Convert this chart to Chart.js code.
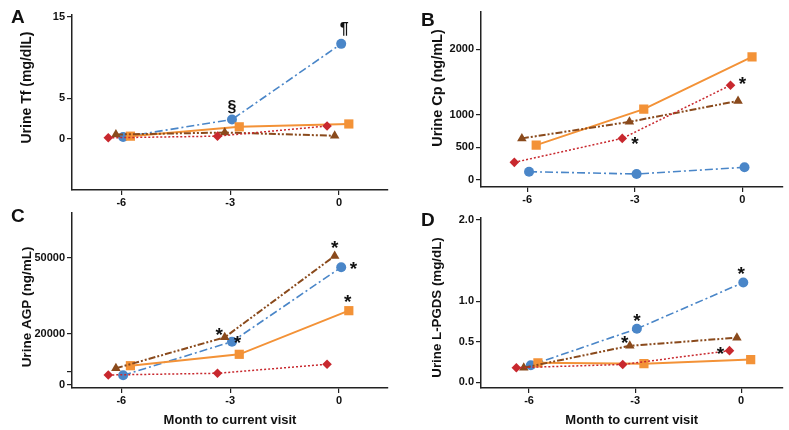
<!DOCTYPE html>
<html>
<head>
<meta charset="utf-8">
<script src="https://cdn.jsdelivr.net/npm/chart.js@4"></script>
<style>
  body { margin: 0; background: #fff; }
  #wrap { position: relative; width: 789px; height: 430px; font-family: "Liberation Sans", Arial, sans-serif; }
  canvas { position: absolute; }
  .tag { position: absolute; font-weight: bold; font-size: 19px; line-height: 19px; color: #111; }
</style>
</head>
<body>
<div id="wrap">
  <canvas id="chartA" width="395" height="215" style="left:0;top:0"></canvas>
  <canvas id="chartB" width="394" height="215" style="left:395px;top:0"></canvas>
  <canvas id="chartC" width="395" height="230" style="left:0;top:200px"></canvas>
  <canvas id="chartD" width="394" height="230" style="left:395px;top:200px"></canvas>
  <div class="tag" style="left:11px;top:7px">A</div>
  <div class="tag" style="left:421px;top:10px">B</div>
  <div class="tag" style="left:11px;top:206px">C</div>
  <div class="tag" style="left:421px;top:210px">D</div>
</div>
<script>
// x positions (months, slightly offset per group so markers don't overlap)
const months = [-6, -3, 0];
const xDiamond = [-6.36, -3.35, -0.33];
const xTriangle = [-6.15, -3.15, -0.12];
const xSquare = [-5.75, -2.75, 0.27];
const xCircle = [-5.95, -2.95, 0.06];

// A - Urine Tf
const tfDiamond = [0.15, 0.35, 1.6];
const tfTriangle = [0.55, 0.8, 0.4];
const tfSquare = [0.35, 1.5, 1.85];
const tfCircle = [0.25, 2.4, 11.7];
const tfTicks = [0, 5, 15];

// B - Urine Cp
const cpDiamond = [270, 637, 1450];
const cpTriangle = [637, 890, 1210];
const cpSquare = [534, 1084, 1885];
const cpCircle = [127, 92, 194];
const cpTicks = [0, 500, 1000, 2000];

// C - Urine AGP
const agpDiamond = [3750, 4420, 7970];
const agpTriangle = [6390, 18600, 50670];
const agpSquare = [7410, 11900, 29100];
const agpCircle = [3630, 16880, 46200];
const agpTicks = [0, 5000, 20000, 50000];
const agpTickLabels = ['0', '', '20000', '50000'];

// D - Urine L-PGDS
const pgdsDiamond = [0.18, 0.22, 0.39];
const pgdsTriangle = [0.18, 0.45, 0.55];
const pgdsSquare = [0.24, 0.23, 0.28];
const pgdsCircle = [0.21, 0.66, 1.23];
const pgdsTicks = [0, 0.5, 1.0, 2.0];
const pgdsTickLabels = ['0.0', '0.5', '1.0', '2.0'];

const seriesX = [xDiamond, xTriangle, xSquare, xCircle];
const seriesStyle = [
    { label: 'diamond', color: '#c8282e', dash: [2, 2], width: 1.5, point: 'rectRot', radius: 4.8 },
    { label: 'triangle', color: '#8a4a1c', dash: [7, 2, 2, 2, 2, 2], width: 2, point: 'triangle', radius: 5.5 },
    { label: 'square', color: '#f39237', dash: [], width: 2, point: 'rect', radius: 6.5 },
    { label: 'circle', color: '#4a86c8', dash: [8, 3, 2, 3], width: 1.6, point: 'circle', radius: 5 }
];
const DIA = 0, TRI = 1, SQ = 2, CIR = 3;

const tickFont = { family: '"Liberation Sans", Arial', size: 11, weight: 'bold' };
const titleFont = { family: '"Liberation Sans", Arial', size: 13, weight: 'bold' };

// significance marks drawn next to a point
const notesPlugin = {
    id: 'notes',
    afterDatasetsDraw(chart, args, opts) {
        const ctx = chart.ctx;
        ctx.save();
        ctx.fillStyle = '#111';
        ctx.textAlign = 'center';
        ctx.textBaseline = 'alphabetic';
        (opts.items || []).forEach(n => {
            const el = chart.getDatasetMeta(n.ds).data[n.i];
            ctx.font = 'bold ' + n.size + 'px "Liberation Sans", Arial';
            const m = ctx.measureText(n.text);
            const cy = el.y + n.dy;
            ctx.fillText(n.text, el.x + n.dx, cy + (m.actualBoundingBoxAscent - m.actualBoundingBoxDescent) / 2);
        });
        ctx.restore();
    }
};

// rotated y axis title
const sideTitlePlugin = {
    id: 'sideTitle',
    afterDraw(chart, args, opts) {
        const ctx = chart.ctx;
        ctx.save();
        ctx.translate(opts.x, opts.y);
        ctx.rotate(-Math.PI / 2);
        ctx.fillStyle = '#111';
        ctx.font = 'bold ' + opts.size + 'px "Liberation Sans", Arial';
        ctx.textAlign = 'center';
        ctx.textBaseline = 'middle';
        ctx.fillText(opts.text, 0, 0);
        ctx.restore();
    }
};

function buildSets(values) {
    return seriesStyle.map((st, k) => ({
        label: st.label,
        data: seriesX[k].map((x, i) => ({ x: x, y: values[k][i] })),
        borderColor: st.color,
        backgroundColor: st.color,
        borderWidth: st.width,
        borderDash: st.dash,
        pointStyle: st.point,
        pointRadius: st.radius,
        pointBorderWidth: 0,
        pointBackgroundColor: st.color,
        tension: 0
    }));
}

function makeChart(id, o) {
    const axisGrid = { drawOnChartArea: false, drawTicks: true, tickLength: 5, color: '#222', lineWidth: 1.2 };
    const axisBorder = { display: true, color: '#222', width: 1.5 };
    return new Chart(document.getElementById(id), {
        type: 'line',
        data: { datasets: buildSets(o.values) },
        options: {
            responsive: false,
            animation: false,
            devicePixelRatio: 1,
            layout: { padding: o.pad },
            plugins: {
                legend: { display: false },
                tooltip: { enabled: false },
                notes: { items: o.notes },
                sideTitle: o.yTitle
            },
            scales: {
                x: {
                    type: 'linear',
                    min: o.xMin,
                    max: o.xMax,
                    afterBuildTicks: s => { s.ticks = months.map(v => ({ value: v })); },
                    afterFit: s => { s.height = o.xHeight; },
                    ticks: { font: tickFont, color: '#111', padding: 1 },
                    grid: axisGrid,
                    border: axisBorder,
                    title: { display: !!o.xTitle, text: o.xTitle || '', font: titleFont, color: '#111', padding: { top: 0, bottom: 2 } }
                },
                y: {
                    type: 'linear',
                    min: o.yMin,
                    max: o.yMax,
                    afterBuildTicks: s => { s.ticks = o.yTicks.map(v => ({ value: v })); },
                    afterFit: s => { s.width = o.yWidth; },
                    ticks: {
                        font: tickFont,
                        color: '#111',
                        padding: 2,
                        callback: v => o.yLabels ? o.yLabels[o.yTicks.indexOf(v)] : String(v)
                    },
                    grid: axisGrid,
                    border: axisBorder
                }
            }
        },
        plugins: [notesPlugin, sideTitlePlugin]
    });
}

document.addEventListener('DOMContentLoaded', function() {
    makeChart('chartA', {
        values: [tfDiamond, tfTriangle, tfSquare, tfCircle],
        xMin: -7.36, xMax: 1.35, yMin: -6.27, yMax: 15.25,
        yTicks: tfTicks,
        pad: { top: 15, right: 7, left: 0, bottom: 0 },
        yWidth: 72, xHeight: 25,
        yTitle: { text: 'Urine Tf (mg/dlL)', x: 27.5, y: 87.5, size: 14 },
        notes: [
            { ds: CIR, i: 1, text: '§', size: 16, dx: 0, dy: -12.5 },
            { ds: CIR, i: 2, text: '¶', size: 16, dx: 3, dy: -15 }
        ]
    });

    makeChart('chartB', {
        values: [cpDiamond, cpTriangle, cpSquare, cpCircle],
        xMin: -7.29, xMax: 1.12, yMin: -107, yMax: 2571,
        yTicks: cpTicks,
        pad: { top: 12, right: 1, left: 0, bottom: 0 },
        yWidth: 86, xHeight: 28,
        yTitle: { text: 'Urine Cp (ng/mL)', x: 42.5, y: 88, size: 14.5 },
        notes: [
            { ds: DIA, i: 1, text: '*', size: 19, dx: 12.6, dy: 2.4 },
            { ds: DIA, i: 2, text: '*', size: 19, dx: 12, dy: -4.3 }
        ]
    });

    makeChart('chartC', {
        values: [agpDiamond, agpTriangle, agpSquare, agpCircle],
        xMin: -7.36, xMax: 1.35, yMin: -1380, yMax: 67600,
        yTicks: agpTicks, yLabels: agpTickLabels,
        pad: { top: 13, right: 7, left: 0, bottom: 0 },
        yWidth: 72, xHeight: 42,
        xTitle: 'Month to current visit',
        yTitle: { text: 'Urine AGP (ng/mL)', x: 27, y: 107, size: 13.5 },
        notes: [
            { ds: TRI, i: 1, text: '*', size: 19, dx: -5.6, dy: -6 },
            { ds: CIR, i: 1, text: '*', size: 19, dx: 5.5, dy: -2 },
            { ds: TRI, i: 2, text: '*', size: 19, dx: 0, dy: -11 },
            { ds: CIR, i: 2, text: '*', size: 19, dx: 12.3, dy: -1.5 },
            { ds: SQ, i: 2, text: '*', size: 19, dx: -1, dy: -12 }
        ]
    });

    makeChart('chartD', {
        values: [pgdsDiamond, pgdsTriangle, pgdsSquare, pgdsCircle],
        xMin: -7.36, xMax: 1.17, yMin: -0.07, yMax: 2.025,
        yTicks: pgdsTicks, yLabels: pgdsTickLabels,
        pad: { top: 18, right: 1, left: 0, bottom: 0 },
        yWidth: 86, xHeight: 42,
        xTitle: 'Month to current visit',
        yTitle: { text: 'Urine L-PGDS (mg/dL)', x: 42, y: 107.5, size: 13.3 },
        notes: [
            { ds: CIR, i: 1, text: '*', size: 19, dx: 0, dy: -11 },
            { ds: TRI, i: 1, text: '*', size: 19, dx: -5, dy: -6 },
            { ds: DIA, i: 2, text: '*', size: 19, dx: -9, dy: 0 },
            { ds: CIR, i: 2, text: '*', size: 19, dx: -2, dy: -12 }
        ]
    });
});
</script>
</body>
</html>
